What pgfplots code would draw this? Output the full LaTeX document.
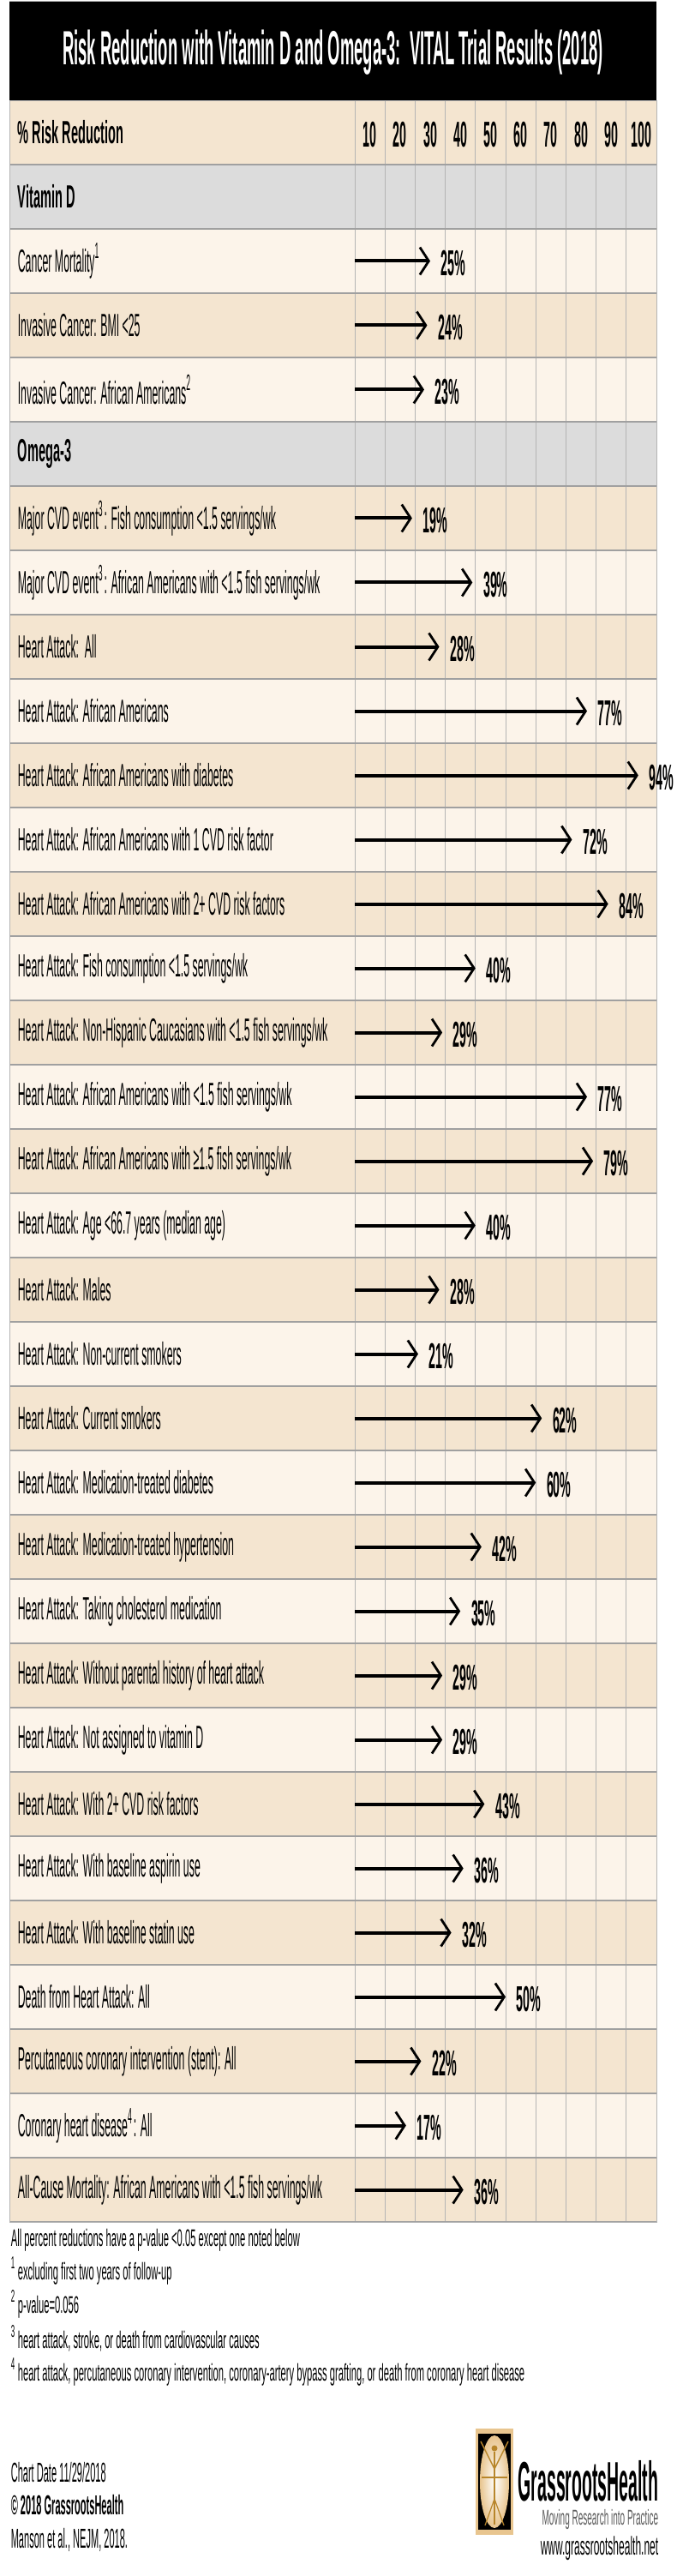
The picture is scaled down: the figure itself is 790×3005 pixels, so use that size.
\documentclass[border=0pt]{standalone}
\usepackage{fontspec}
\setmainfont{Liberation Sans}[FakeStretch=0.33]
\newfontfamily\titlefont{Liberation Sans}[FakeStretch=0.33]
\newfontfamily\hdfont{Liberation Sans}[FakeStretch=0.39]
\newfontfamily\numfont{Liberation Sans}[FakeStretch=0.34]
\newfontfamily\footfont{Liberation Sans}[FakeStretch=0.40]
\newfontfamily\datefont{Liberation Sans}[FakeStretch=0.345]
\newfontfamily\logofont{Liberation Sans}[FakeStretch=0.30]
\usepackage{pgfplots}
\pgfplotsset{compat=1.18}
\usepackage{pgfplotstable}
\usetikzlibrary{arrows.meta}
\definecolor{tanrow}{HTML}{F4E5D0}
\definecolor{lightrow}{HTML}{FCF4EA}
\definecolor{greyrow}{HTML}{DCDCDC}
\definecolor{sepline}{HTML}{A0A0A0}
\definecolor{gridv}{HTML}{B4B4B4}
\definecolor{logotan}{HTML}{E8C58F}
\definecolor{logobrown}{HTML}{B8862B}

\pgfplotstableread{
row val
2 25
3 24
4 23
6 19
7 39
8 28
9 77
10 94
11 72
12 84
13 40
14 29
15 77
16 79
17 40
18 28
19 21
20 62
21 60
22 42
23 35
24 29
25 29
26 43
27 36
28 32
29 50
30 22
31 17
32 36
}\data

\newcommand{\hd}{\hdfont\bfseries\fontsize{9.35}{10.5}\selectfont}
\newcommand{\stripe}[3]{\addplot[fill=#1, draw=none, on layer=axis background] coordinates {(-114.49,#2) (100,#2) (100,#3) (-114.49,#3)};}
\newcommand{\fn}[1]{\makebox[2pt][l]{\textsuperscript{#1}}}

\begin{document}
\begin{tikzpicture}[x=0.25pt, y=0.25pt]
% title band
\fill[black] (11,-2.5) rectangle (766,-117);
\draw[gray!60, line width=0.25pt] (11,-1.5) -- (766,-1.5);
\node[anchor=base, inner sep=0pt, text=white, font=\titlefont\bfseries\fontsize{14}{16}\selectfont]
  at (388.5,-76) {Risk Reduction with Vitamin D and Omega-3:\ \ VITAL Trial Results (2018)};
\begin{axis}[
  at={(2.75pt,-29.25pt)}, anchor=north west,
  width=188.75pt, height=618.75pt, scale only axis,
  set layers,
  xmin=-114.49, xmax=100, ymin=-0.5, ymax=32.5, y dir=reverse,
  clip=false,
  axis line style={draw=gridv, line width=0.2pt},
  tick style={draw=none}, major tick length=0pt, minor tick length=0pt,
  xtick={5,15,...,95},
  xticklabels={\textbf{10},\textbf{20},\textbf{30},\textbf{40},\textbf{50},\textbf{60},\textbf{70},\textbf{80},\textbf{90},\textbf{100}},
  xticklabel pos=upper,
  xticklabel style={font=\numfont\bfseries\fontsize{10.5}{12}\selectfont, anchor=center, yshift=-9.9pt, inner sep=0pt},
  minor xtick={0,10,...,100},
  xminorgrids, minor x grid style={draw=gridv, line width=0.2pt},
  ytick={0,1,...,32},
  minor ytick={0.5,1.5,...,32.5},
  yminorgrids, minor y grid style={draw=sepline, line width=0.45pt},
  yticklabel style={font=\fontsize{9.35}{10.5}\selectfont, anchor=west, inner sep=0pt, xshift=2.25pt},
  yticklabels={
    {\hd\% Risk Reduction},
    {\hd Vitamin D},
    Cancer Mortality\textsuperscript{1},
    Invasive Cancer: BMI <25,
    Invasive Cancer: African Americans\textsuperscript{2},
    {\hd Omega-3},
    Major CVD event\textsuperscript{3}: Fish consumption <1.5 servings/wk,
    Major CVD event\textsuperscript{3}: African Americans with <1.5 fish servings/wk,
    Heart Attack:\ \ All,
    Heart Attack: African Americans,
    Heart Attack: African Americans with diabetes,
    Heart Attack: African Americans with 1 CVD risk factor,
    Heart Attack: African Americans with 2+ CVD risk factors,
    Heart Attack: Fish consumption <1.5 servings/wk,
    Heart Attack: Non-Hispanic Caucasians with <1.5 fish servings/wk,
    Heart Attack: African Americans with <1.5 fish servings/wk,
    Heart Attack: African Americans with ≥1.5 fish servings/wk,
    Heart Attack: Age <66.7 years (median age),
    Heart Attack: Males,
    Heart Attack: Non-current smokers,
    Heart Attack: Current smokers,
    Heart Attack: Medication-treated diabetes,
    Heart Attack: Medication-treated hypertension,
    Heart Attack: Taking cholesterol medication,
    Heart Attack: Without parental history of heart attack,
    Heart Attack: Not assigned to vitamin D,
    Heart Attack: With 2+ CVD risk factors,
    Heart Attack: With baseline aspirin use,
    Heart Attack: With baseline statin use,
    Death from Heart Attack: All,
    Percutaneous coronary intervention (stent): All,
    Coronary heart disease\textsuperscript{4}: All,
    All-Cause Mortality: African Americans with <1.5 fish servings/wk
  },
]
\stripe{lightrow}{-0.5}{32.5}
\stripe{tanrow}{-0.5}{0.5}
\stripe{greyrow}{0.5}{1.5}
\stripe{tanrow}{2.5}{3.5}
\stripe{greyrow}{4.5}{5.5}
\stripe{tanrow}{5.5}{6.5}
\stripe{tanrow}{7.5}{8.5}
\stripe{tanrow}{9.5}{10.5}
\stripe{tanrow}{11.5}{12.5}
\stripe{tanrow}{13.5}{14.5}
\stripe{tanrow}{15.5}{16.5}
\stripe{tanrow}{17.5}{18.5}
\stripe{tanrow}{19.5}{20.5}
\stripe{tanrow}{21.5}{22.5}
\stripe{tanrow}{23.5}{24.5}
\stripe{tanrow}{25.5}{26.5}
\stripe{tanrow}{27.5}{28.5}
\stripe{tanrow}{29.5}{30.5}
\stripe{tanrow}{31.5}{32.5}
% arrows
\addplot[black, line width=1pt,
  -{Straight Barb[length=2.6pt,width=8pt,line width=0.7pt]},
  quiver={u=\thisrow{val}, v=0}]
  table[x expr=0, y=row] \data;
% percent labels
\addplot[only marks, mark=none,
  point meta=explicit symbolic,
  nodes near coords={\pgfplotspointmeta\%},
  every node near coord/.append style={anchor=west, inner sep=0pt, xshift=3pt, yshift=-0.6pt,
    font=\numfont\bfseries\fontsize{10.5}{12}\selectfont, text=black}]
  table[x=val, y=row, meta=val] \data;
\end{axis}
% footnotes
\begin{scope}[every node/.style={anchor=base west, inner sep=0pt, font=\footfont\fontsize{7}{8}\selectfont}]
\node at (12,-2620) {All percent reductions have a p-value <0.05 except one noted below};
\node at (12,-2659) {\fn{1}excluding first two years of follow-up};
\node at (12,-2698) {\fn{2}p-value=0.056};
\node at (12,-2739) {\fn{3}heart attack, stroke, or death from cardiovascular causes};
\node at (12,-2777) {\fn{4}heart attack, percutaneous coronary intervention, coronary-artery bypass grafting, or death from coronary heart disease};
\end{scope}
\begin{scope}[every node/.style={anchor=base west, inner sep=0pt, font=\datefont\fontsize{8}{9}\selectfont}]
\node at (12,-2895) {Chart Date 11/29/2018};
\node at (12,-2933) {\bfseries © 2018 GrassrootsHealth};
\node at (12,-2972) {Manson et al., NEJM, 2018.};
\end{scope}
% logo
\fill[logotan] (555,-2833) rectangle (599,-2957);
\fill[black] (558,-2839) rectangle (596,-2951);
\shade[inner color=white, outer color=logotan] (577,-2895) ellipse [x radius=17, y radius=54];
\draw[logobrown, line width=0.4pt] (577,-2860) -- (577,-2945);
\draw[logobrown, line width=0.35pt] (561,-2848) -- (577,-2880) -- (593,-2848);
\draw[logobrown, line width=0.35pt] (562,-2890) -- (592,-2890);
\draw[logobrown, line width=0.3pt] (577,-2915) -- (566,-2946);
\draw[logobrown, line width=0.3pt] (577,-2915) -- (588,-2946);
\fill[logobrown] (577,-2856) circle (3.5);
\node[anchor=base east, inner sep=0pt, font=\logofont\bfseries\fontsize{16.25}{18}\selectfont] at (769,-2917) {GrassrootsHealth};
\node[anchor=base east, inner sep=0pt, text=black!65, font=\footfont\fontsize{6.25}{7}\selectfont] at (769,-2945) {Moving Research into Practice};
\node[anchor=base east, inner sep=0pt, font=\footfont\fontsize{7.5}{8.5}\selectfont] at (769,-2980) {www.grassrootshealth.net};
\pgfresetboundingbox
\useasboundingbox (0,0) rectangle (790,-3005);
\end{tikzpicture}
\end{document}
